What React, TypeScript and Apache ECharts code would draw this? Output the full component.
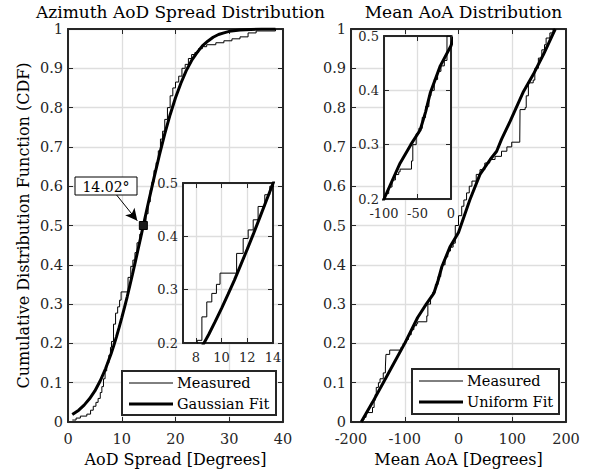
import React, { useEffect, useRef } from "react";
import * as echarts from "echarts";

const FONT = "DejaVu Serif";

// ---------- Data ----------
const leftTitle = "Azimuth AoD Spread Distribution";
const rightTitle = "Mean AoA Distribution";
const leftXName = "AoD Spread [Degrees]";
const rightXName = "Mean AoA [Degrees]";
const yName = "Cumulative Distribution Function (CDF)";
const leftLegend = ["Measured", "Gaussian Fit"];
const rightLegend = ["Measured", "Uniform Fit"];
const annotationText = "14.02°";
const medianPoint = [14.02, 0.5];

// Empirical CDF of AoD spread (x = degrees, y = CDF)
const aodMeasured: number[][] = [
  [0.8, 0.005], [1.5, 0.01], [2.3, 0.015], [3.5, 0.02], [4.2, 0.03], [4.7, 0.04],
  [5.2, 0.05], [5.6, 0.06], [6.0, 0.075], [6.3, 0.09], [6.6, 0.11], [6.9, 0.13],
  [7.2, 0.15], [7.6, 0.17], [7.9, 0.19], [8.1, 0.205], [8.47, 0.249], [8.85, 0.277],
  [9.24, 0.293], [9.6, 0.31], [9.88, 0.331], [11.17, 0.368], [11.68, 0.396],
  [12.07, 0.412], [12.46, 0.431], [12.84, 0.456], [13.36, 0.478], [13.75, 0.494],
  [14.1, 0.51], [14.5, 0.53], [14.9, 0.56], [15.3, 0.59], [15.6, 0.61], [16.0, 0.64],
  [16.4, 0.66], [16.8, 0.69], [17.2, 0.72], [17.6, 0.74], [18.0, 0.77], [18.5, 0.8],
  [19.0, 0.83], [19.5, 0.85], [20.0, 0.865], [20.6, 0.88], [21.2, 0.9], [21.8, 0.91],
  [22.4, 0.925], [23.0, 0.935], [23.6, 0.94], [24.3, 0.95], [25.0, 0.955],
  [25.8, 0.96], [27.5, 0.965], [29.0, 0.97], [30.5, 0.975], [32.0, 0.98],
  [33.5, 0.99], [35.0, 0.995], [38.6, 1.0],
];

// Gaussian fit of AoD spread
const aodFit: number[][] = [
  [0.8, 0.019], [2, 0.03], [3, 0.043], [4, 0.059], [5, 0.079], [6, 0.105], [7, 0.136],
  [8, 0.173], [8.5, 0.194], [9, 0.216], [9.5, 0.24], [10, 0.265], [10.5, 0.291],
  [11, 0.318], [11.5, 0.347], [12, 0.376], [12.5, 0.406], [13, 0.437], [13.5, 0.468],
  [14, 0.499], [15, 0.561], [16, 0.621], [17, 0.679], [18, 0.733], [19, 0.782],
  [20, 0.825], [21, 0.862], [22, 0.894], [23, 0.92], [24, 0.94], [25, 0.957],
  [26, 0.969], [27, 0.979], [28, 0.986], [29, 0.99], [30, 0.994], [32, 0.9975],
  [34, 0.999], [36, 1.0], [38.6, 1.0],
];

// Empirical CDF of mean AoA
const aoaMeasured: number[][] = [
  [-181, 0.005], [-176, 0.012], [-172, 0.024], [-160, 0.037], [-157, 0.055],
  [-155, 0.07], [-153, 0.088], [-149, 0.1], [-146, 0.11], [-140, 0.125], [-136, 0.14],
  [-135, 0.172], [-128, 0.183], [-107, 0.19], [-103, 0.2], [-98, 0.21], [-93, 0.222],
  [-88, 0.235], [-83, 0.245], [-78, 0.25], [-76, 0.255], [-59, 0.27], [-57, 0.3],
  [-52, 0.32], [-48, 0.33], [-43, 0.35], [-38, 0.37], [-33, 0.39], [-30, 0.4],
  [-25, 0.42], [-20, 0.435], [-15, 0.445], [-10, 0.455], [-6, 0.5], [0, 0.525],
  [6, 0.549], [10, 0.565], [15, 0.583], [20, 0.6], [25, 0.613], [33, 0.63],
  [40, 0.642], [49, 0.659], [58, 0.668], [68, 0.676], [80, 0.689], [90, 0.7],
  [99, 0.712], [114, 0.72], [114.5, 0.795], [124, 0.8], [126, 0.83], [130, 0.863],
  [139, 0.87], [142, 0.9], [148.6, 0.926], [155, 0.947], [160, 0.96], [163, 0.977],
  [170, 0.99], [176, 1.0],
];

// Uniform fit of mean AoA
const aoaFit: number[][] = [
  [-181, 0], [-160, 0.05], [-140, 0.1], [-120, 0.15], [-100, 0.2], [-76, 0.266],
  [-60, 0.3], [-46, 0.327], [-38, 0.36], [-31, 0.395], [-16, 0.445], [0, 0.482],
  [21, 0.565], [40, 0.63], [59, 0.668], [71, 0.689], [80, 0.719], [96, 0.765],
  [121, 0.841], [139, 0.884], [158, 0.935], [180, 1.0],
];

// Axis ranges / ticks
const mainY = { min: 0, max: 1, interval: 0.1 };
const insetY = { min: 0.2, max: 0.5, interval: 0.1 };
const leftMainX = { min: 0, max: 40, interval: 10 };
const leftInsetX = { min: 7, max: 14 };
const leftInsetXTicks = [8, 10, 12, 14];
const rightMainX = { min: -200, max: 200, interval: 100 };
const rightInsetX = { min: -100, max: 0, interval: 50 };

// ---------- Styling helpers ----------
const AXIS_COLOR = "#262626";
const gridLine = { show: true, lineStyle: { color: "#dedede", width: 1.3 } };
const axisLine = { show: true, onZero: false, lineStyle: { color: AXIS_COLOR, width: 2 } };
const tick = { show: true, inside: true, length: 5, lineStyle: { color: AXIS_COLOR, width: 1 } };

function makeAxis(
  gridIndex: number,
  range: any,
  position: string,
  primary: boolean,
  fontSize: number,
  z: number,
  margin: number,
  custom?: number[],
  name?: string,
  nameGap?: number
) {
  const ax: any = {
    type: "value",
    gridIndex,
    position,
    min: range.min,
    max: range.max,
    z,
    axisLine,
    axisTick: custom ? { ...tick, customValues: custom } : tick,
    splitLine: primary ? gridLine : { show: false },
    axisLabel: primary
      ? {
          show: true,
          fontFamily: FONT,
          fontSize,
          color: AXIS_COLOR,
          margin,
          ...(custom ? { customValues: custom } : {}),
        }
      : { show: false },
  };
  if (range.interval !== undefined) ax.interval = range.interval;
  if (name) {
    ax.name = name;
    ax.nameLocation = "middle";
    ax.nameGap = nameGap;
    ax.nameTextStyle = { fontFamily: FONT, fontSize: 16, color: "#000" };
  }
  return ax;
}

function legendBox(x: number, y: number, w: number, h: number, names: string[]) {
  const lx1 = x + 7;
  const lx2 = x + 51;
  const tx = x + 55;
  const y1 = y + 12;
  const y2 = y + 33;
  return {
    type: "group",
    z: 10,
    children: [
      { type: "rect", z: 10, shape: { x, y, width: w, height: h }, style: { fill: "#fff", stroke: AXIS_COLOR, lineWidth: 2 } },
      { type: "line", z: 11, shape: { x1: lx1, y1, x2: lx2, y2: y1 }, style: { stroke: "#000", lineWidth: 1 } },
      { type: "line", z: 11, shape: { x1: lx1, y1: y2, x2: lx2, y2 }, style: { stroke: "#000", lineWidth: 3 } },
      { type: "text", z: 11, x: tx, y: y1, style: { text: names[0], font: `14.5px "${FONT}"`, fill: "#000", verticalAlign: "middle" } },
      { type: "text", z: 11, x: tx, y: y2, style: { text: names[1], font: `14.5px "${FONT}"`, fill: "#000", verticalAlign: "middle" } },
    ],
  };
}

export default function App() {
  const ref = useRef<HTMLDivElement>(null);

  useEffect(() => {
    if (!ref.current) return;
    const chart = echarts.init(ref.current, undefined, { renderer: "svg" });

    const grids = [
      { left: 68, top: 29, width: 215, height: 394, show: false, containLabel: false },
      { left: 183, top: 183, width: 90, height: 160, show: true, backgroundColor: "#fff", borderWidth: 0, z: 3 },
      { left: 351, top: 29, width: 215, height: 394, show: false, containLabel: false },
      { left: 384, top: 36, width: 67, height: 163, show: true, backgroundColor: "#fff", borderWidth: 0, z: 3 },
    ];

    const xAxes = [
      makeAxis(0, leftMainX, "bottom", true, 14.5, 0, 9, undefined, leftXName, 29),
      makeAxis(1, leftInsetX, "bottom", true, 13, 4, 8, leftInsetXTicks),
      makeAxis(2, rightMainX, "bottom", true, 14.5, 0, 9, undefined, rightXName, 29),
      makeAxis(3, rightInsetX, "bottom", true, 13, 4, 8),
      makeAxis(0, leftMainX, "top", false, 14.5, 0, 6),
      makeAxis(1, leftInsetX, "top", false, 13, 4, 6, leftInsetXTicks),
      makeAxis(2, rightMainX, "top", false, 14.5, 0, 6),
      makeAxis(3, rightInsetX, "top", false, 13, 4, 6),
    ];
    const yAxes = [
      makeAxis(0, mainY, "left", true, 14.5, 0, 5, undefined, yName, 37),
      makeAxis(1, insetY, "left", true, 13, 4, 5),
      makeAxis(2, mainY, "left", true, 14.5, 0, 5),
      makeAxis(3, insetY, "left", true, 13, 4, 5),
      makeAxis(0, mainY, "right", false, 14.5, 0, 6),
      makeAxis(1, insetY, "right", false, 13, 4, 6),
      makeAxis(2, mainY, "right", false, 14.5, 0, 6),
      makeAxis(3, insetY, "right", false, 13, 4, 6),
    ];

    const thin = { color: "#000", width: 1 };
    const thick = { color: "#000", width: 3 };
    const base = { type: "line", showSymbol: false, symbol: "none", clip: true, silent: true };

    const series: any[] = [
      { ...base, name: "Measured", data: aodMeasured, step: "end", lineStyle: thin, xAxisIndex: 0, yAxisIndex: 0, z: 2 },
      {
        ...base,
        name: "Gaussian Fit",
        data: aodFit,
        lineStyle: thick,
        xAxisIndex: 0,
        yAxisIndex: 0,
        z: 2,
        markPoint: {
          silent: true,
          symbol: "rect",
          symbolSize: 8,
          itemStyle: { color: "#1a1a1a", borderColor: "#000", borderWidth: 1 },
          label: { show: false },
          data: [{ coord: medianPoint }],
        },
        markLine: {
          silent: true,
          symbol: ["none", "arrow"],
          symbolSize: [9, 12],
          lineStyle: { color: "#000", width: 1, type: "solid" },
          label: { show: false },
          data: [[{ coord: [8.9, 0.58] }, { coord: [12.9, 0.512] }]],
        },
      },
      { ...base, name: "Measured (inset)", data: aodMeasured, step: "end", lineStyle: thin, xAxisIndex: 1, yAxisIndex: 1, z: 5 },
      { ...base, name: "Gaussian Fit (inset)", data: aodFit, lineStyle: thick, xAxisIndex: 1, yAxisIndex: 1, z: 5 },
      { ...base, name: "Measured AoA", data: aoaMeasured, step: "end", lineStyle: thin, xAxisIndex: 2, yAxisIndex: 2, z: 2 },
      { ...base, name: "Uniform Fit", data: aoaFit, lineStyle: thick, xAxisIndex: 2, yAxisIndex: 2, z: 2 },
      { ...base, name: "Measured AoA (inset)", data: aoaMeasured, step: "end", lineStyle: thin, xAxisIndex: 3, yAxisIndex: 3, z: 5 },
      { ...base, name: "Uniform Fit (inset)", data: aoaFit, lineStyle: thick, xAxisIndex: 3, yAxisIndex: 3, z: 5 },
    ];

    chart.setOption({
      animation: false,
      backgroundColor: "#fff",
      textStyle: { fontFamily: FONT },
      title: [
        { text: leftTitle, left: 175.5, top: -2, textAlign: "center", textStyle: { fontFamily: FONT, fontSize: 17, fontWeight: "normal", color: "#000" } },
        { text: rightTitle, left: 458.5, top: -2, textAlign: "center", textStyle: { fontFamily: FONT, fontSize: 17, fontWeight: "normal", color: "#000" } },
      ],
      grid: grids,
      xAxis: xAxes,
      yAxis: yAxes,
      series,
      graphic: [
        legendBox(122, 371, 154, 44, leftLegend),
        legendBox(412, 369, 147, 45, rightLegend),
        {
          type: "rect",
          z: 20,
          shape: { x: 75, y: 177, width: 62, height: 18 },
          style: { fill: "#fff", stroke: "#000", lineWidth: 1 },
        },
        {
          type: "text",
          z: 21,
          x: 106,
          y: 186.5,
          style: { text: annotationText, font: `14px "${FONT}"`, fill: "#000", align: "center", verticalAlign: "middle" },
        },
      ],
    });

    return () => chart.dispose();
  }, []);

  return (
    <div
      ref={ref}
      style={{ position: "fixed", left: 0, top: 0, width: 590, height: 472, background: "#fff" }}
    />
  );
}
